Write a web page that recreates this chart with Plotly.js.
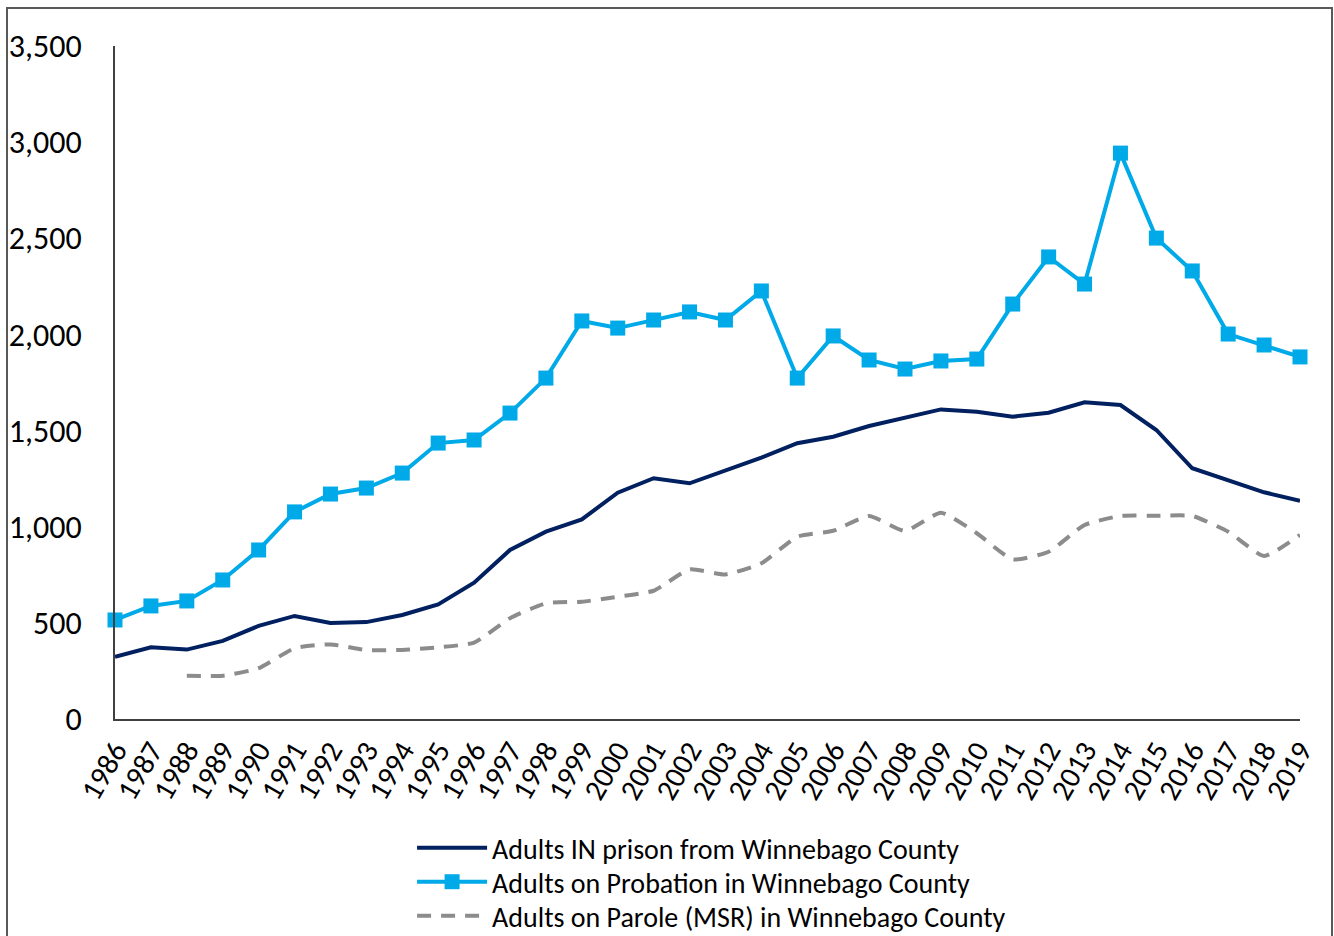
<!DOCTYPE html>
<html>
<head>
<meta charset="utf-8">
<script src="https://cdn.plot.ly/plotly-3.0.1.min.js"></script>
<style>html,body{margin:0;padding:0;background:#fff;}#chart{width:1334px;height:936px;}</style>
</head>
<body>
<div id="chart"></div>
<script>
const years = [1986,1987,1988,1989,1990,1991,1992,1993,1994,1995,1996,1997,1998,1999,2000,2001,2002,2003,2004,2005,2006,2007,2008,2009,2010,2011,2012,2013,2014,2015,2016,2017,2018,2019];
const prison = [324,373,361,406,484,536,499,504,541,596,709,879,974,1038,1177,1252,1226,1291,1359,1434,1468,1524,1567,1610,1598,1572,1593,1647,1633,1503,1304,1239,1179,1135];
const probation = [515,588,614,723,879,1077,1170,1201,1279,1435,1451,1591,1773,2070,2033,2075,2117,2075,2226,1773,1992,1867,1820,1862,1872,2158,2403,2262,2943,2501,2330,2002,1945,1883];
const parole = [null,null,225,225,264,368,388,359,359,373,397,524,602,610,636,667,778,752,810,948,979,1056,978,1073,966,830,870,1009,1056,1057,1056,974,848,957];
const seriesNames = ["Adults IN prison from Winnebago County","Adults on Probation in Winnebago County","Adults on Parole (MSR) in Winnebago County"];

const FONT = "Carlito, Calibri, Lato, sans-serif";

const traces = [
  {x: years, y: prison, name: seriesNames[0], type: 'scatter', mode: 'lines',
   line: {color: '#002060', width: 4}, legend: 'legend', cliponaxis: false},
  {x: years, y: probation, name: seriesNames[1], type: 'scatter', mode: 'lines+markers',
   line: {color: '#00A9E8', width: 4}, marker: {symbol: 'square', size: 15, color: '#00A9E8'},
   legend: 'legend2', cliponaxis: false},
  {x: years, y: parole, name: seriesNames[2], type: 'scatter', mode: 'lines',
   line: {color: '#8C8C8C', width: 4, dash: '14px,10px', shape: 'spline', smoothing: 0.5},
   legend: 'legend3', cliponaxis: false}
];

function leg(ypx){
  return {x: 0.2507, xanchor: 'left', xref: 'paper', y: 1 - ypx/936, yanchor: 'middle', yref: 'container',
          orientation: 'v',
          font: {family: FONT, size: 28, color: '#000'}, bgcolor: 'rgba(0,0,0,0)',
          itemwidth: 70};
}

const layout = {
  width: 1334, height: 936,
  margin: {l: 115, r: 34, t: 46, b: 217},
  paper_bgcolor: '#fff', plot_bgcolor: '#fff',
  font: {family: FONT, color: '#000'},
  showlegend: true,
  xaxis: {
    range: [1986, 2019], tickmode: 'linear', tick0: 1986, dtick: 1,
    tickangle: -60, showgrid: false, zeroline: false,
    showline: true, linecolor: '#404040', linewidth: 2,
    ticks: '', automargin: false, tickfont: {family: FONT, size: 30, color: '#000'}
  },
  yaxis: {
    range: [0, 3500], tickmode: 'linear', tick0: 0, dtick: 500,
    tickformat: ',d', showgrid: false, zeroline: false,
    showline: true, linecolor: '#404040', linewidth: 2,
    ticks: '', ticklabelstandoff: 25, automargin: false,
    tickfont: {family: FONT, size: 32, color: '#000'}
  },
  legend: leg(848),
  legend2: leg(882),
  legend3: leg(916),
  shapes: [{
    type: 'rect', xref: 'paper', yref: 'paper',
    x0: (7-115)/1185, x1: (1332-115)/1185, y0: -0.5, y1: (719-8)/673,
    line: {color: '#595959', width: 2}, fillcolor: 'rgba(0,0,0,0)', layer: 'below'
  }]
};

Plotly.newPlot('chart', traces, layout, {displayModeBar: false, staticPlot: true});
</script>
</body>
</html>
